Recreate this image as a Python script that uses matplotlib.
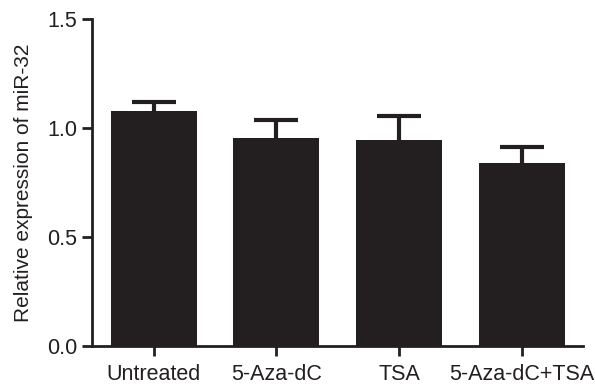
import matplotlib
matplotlib.use("Agg")
import matplotlib.pyplot as plt

plt.rcParams['font.family'] = ['Liberation Sans', 'DejaVu Sans']

groups = ['Untreated', '5-Aza-dC', 'TSA', '5-Aza-dC+TSA']
means = [1.078, 0.957, 0.945, 0.842]
errors = [0.043, 0.081, 0.109, 0.071]

fig = plt.figure(figsize=(5.95, 3.85), dpi=100)
ax = fig.add_axes([0.155, 0.101, 0.825, 0.849])

x = range(len(groups))
ax.bar(x, means, width=0.7, color='#231f20', zorder=2)
eb = ax.errorbar(x, means, yerr=[[0] * len(errors), errors], fmt='none',
                 ecolor='#231f20', elinewidth=3, capsize=16, capthick=3,
                 zorder=1)
# only the upper cap is shown
eb[1][0].set_visible(False)

ax.set_xlim(-0.5, 3.5)
ax.set_ylim(0, 1.5)
ax.set_yticks([0.0, 0.5, 1.0, 1.5])
ax.set_yticklabels(['0.0', '0.5', '1.0', '1.5'])
ax.set_xticks(list(x))
ax.set_xticklabels(groups)

for s in ['top', 'right']:
    ax.spines[s].set_visible(False)
for s in ['left', 'bottom']:
    ax.spines[s].set_linewidth(2)
    ax.spines[s].set_color('#231f20')

ax.tick_params(axis='both', width=2, length=7, color='#231f20',
               labelsize=15.5, labelcolor='#231f20')
ax.tick_params(axis='y', pad=4)
ax.tick_params(axis='x', pad=6)
ax.set_ylabel('Relative expression of miR-32', fontsize=15, color='#231f20', labelpad=10)

fig.savefig('out.png', dpi=100)
